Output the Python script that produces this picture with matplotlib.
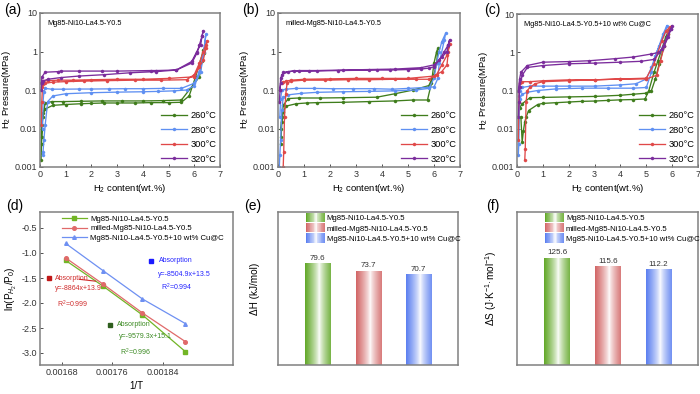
import numpy as np
import matplotlib
matplotlib.use('Agg')
import matplotlib.pyplot as plt
from matplotlib.legend_handler import HandlerBase
from matplotlib.patches import Rectangle
from matplotlib.colors import to_rgb
from matplotlib.ticker import FixedLocator, FixedFormatter, NullLocator

plt.rcParams['font.family'] = ['Liberation Sans', 'DejaVu Sans']
plt.rcParams['mathtext.fontset'] = 'custom'
plt.rcParams['mathtext.rm'] = 'Liberation Sans'
plt.rcParams['mathtext.it'] = 'Liberation Sans:italic'
plt.rcParams['mathtext.bf'] = 'Liberation Sans:bold'

# ---------------- data ----------------
temps = ['260°C', '280°C', '300°C', '320°C']

# panel (a) Mg85-Ni10-La4.5-Y0.5
a260_x = [0.04,0.06,0.08,0.12,0.2,0.5,1.0,1.6,2.0,2.5,3.0,3.7,4.3,5.0,5.5,5.8,6.05,6.25,6.35,6.38,6.3,6.2,5.5,4.8,4.0,3.2,2.4,1.6,0.9,0.45,0.2,0.1,0.06]
a260_p = [0.0015,0.004,0.012,0.025,0.032,0.04,0.042,0.044,0.045,0.046,0.046,0.046,0.047,0.047,0.048,0.07,0.22,0.6,1.1,0.9,0.55,0.22,0.055,0.053,0.052,0.052,0.052,0.051,0.05,0.05,0.045,0.02,0.006]
a280_x = [0.1,0.12,0.15,0.2,0.3,0.5,1.0,2.0,3.0,4.0,4.6,5.2,5.7,6.0,6.25,6.38,6.45,6.4,6.3,6.2,6.0,5.5,4.8,4.0,3.3,2.7,2.0,1.5,0.9,0.45,0.2,0.15,0.12,0.1]
a280_p = [0.002,0.0025,0.005,0.012,0.05,0.07,0.08,0.085,0.088,0.09,0.092,0.095,0.1,0.13,0.3,1.0,2.8,1.5,0.6,0.3,0.15,0.11,0.11,0.108,0.108,0.107,0.106,0.106,0.105,0.105,0.11,0.09,0.05,0.01]
a300_x = [0.05,0.07,0.1,0.2,0.5,1.0,1.7,2.6,3.7,4.7,5.7,6.0,6.2,6.35,6.45,6.5,6.45,6.35,6.2,6.0,5.0,4.0,3.0,2.0,1.3,0.7,0.3,0.1,0.07]
a300_p = [0.012,0.05,0.14,0.15,0.16,0.165,0.17,0.175,0.18,0.18,0.185,0.25,0.5,1.0,1.5,1.9,1.2,0.6,0.4,0.22,0.2,0.19,0.19,0.185,0.18,0.18,0.175,0.17,0.12]
a320_x = [0.05,0.07,0.1,0.3,0.8,1.5,2.5,3.5,4.5,5.3,5.9,6.1,6.2,6.3,6.35,6.3,6.25,6.1,5.9,5.3,4.5,4.3,3.0,2.4,1.5,0.8,0.7,0.2,0.08,0.05]
a320_p = [0.1,0.15,0.17,0.19,0.21,0.23,0.25,0.28,0.3,0.33,0.5,0.9,1.5,2.5,3.5,2.5,1.5,1.0,0.55,0.33,0.32,0.32,0.31,0.31,0.31,0.31,0.3,0.29,0.22,0.15]

# panel (b) milled-Mg85-Ni10-La4.5-Y0.5
b260_x = [0.1,0.12,0.15,0.2,0.3,0.7,1.1,1.5,2.5,3.5,4.5,5.2,5.75,5.9,6.0,6.1,6.15,6.1,6.0,5.8,5.2,4.5,3.8,2.5,1.6,0.8,0.4,0.2,0.15,0.1]
b260_p = [0.004,0.006,0.015,0.027,0.038,0.044,0.046,0.047,0.048,0.05,0.052,0.055,0.055,0.15,0.5,1.0,1.2,0.5,0.25,0.13,0.1,0.08,0.065,0.063,0.062,0.062,0.06,0.04,0.02,0.01]
b280_x = [0.05,0.07,0.1,0.15,0.2,0.4,0.9,1.5,2.5,3.5,4.5,5.3,5.8,6.0,6.1,6.2,6.3,6.45,6.4,6.2,6.15,6.0,5.0,4.4,3.7,2.9,2.1,1.4,0.7,0.3,0.15,0.1,0.07]
b280_p = [0.001,0.002,0.005,0.03,0.065,0.075,0.082,0.087,0.09,0.092,0.095,0.1,0.11,0.2,0.5,1.0,1.8,3.0,2.0,0.5,0.2,0.12,0.11,0.105,0.108,0.108,0.108,0.11,0.11,0.105,0.1,0.06,0.02]
b300_x = [0.2,0.22,0.25,0.3,0.35,0.5,1.0,1.8,2.7,3.5,4.5,5.3,5.8,6.1,6.3,6.5,6.6,6.55,6.5,6.3,6.0,5.0,4.0,3.0,2.0,1.0,0.5,0.3,0.2,0.15]
b300_p = [0.001,0.0025,0.02,0.08,0.15,0.17,0.18,0.18,0.185,0.185,0.19,0.19,0.19,0.25,0.45,0.8,1.6,1.0,0.45,0.3,0.23,0.2,0.2,0.2,0.195,0.19,0.18,0.17,0.16,0.15]
b320_x = [0.05,0.08,0.1,0.2,0.6,1.2,2.3,3.8,4.3,5.0,5.5,5.8,6.0,6.2,6.4,6.55,6.6,6.55,6.5,6.3,6.0,5.5,4.5,3.5,2.5,1.5,0.8,0.4,0.15,0.1,0.07]
b320_p = [0.05,0.1,0.2,0.29,0.31,0.31,0.32,0.33,0.33,0.34,0.35,0.37,0.4,0.6,1.0,1.5,2.0,1.5,1.0,0.7,0.45,0.38,0.35,0.34,0.33,0.32,0.32,0.3,0.25,0.15,0.1]

# panel (c) Mg85-Ni10-La4.5-Y0.5+10 wt% Cu@C
c260_x = [0.15,0.2,0.25,0.3,0.35,0.45,0.8,1.0,1.5,2.0,2.5,3.0,3.5,4.0,4.5,4.95,5.1,5.3,5.45,5.6,5.75,5.9,5.85,5.7,5.5,5.35,5.2,5.0,4.5,4.0,3.0,2.0,1.0,0.5,0.2,0.1,0.05]
c260_p = [0.02,0.0045,0.009,0.015,0.02,0.03,0.043,0.046,0.048,0.05,0.052,0.053,0.055,0.057,0.058,0.06,0.1,0.3,0.6,1.2,2.5,4.0,3.0,1.5,0.5,0.2,0.1,0.085,0.08,0.075,0.07,0.068,0.066,0.065,0.045,0.035,0.02]
c280_x = [0.05,0.07,0.1,0.2,0.4,0.8,1.5,2.5,3.5,4.5,5.0,5.2,5.35,5.5,5.65,5.8,5.75,5.6,5.4,5.2,5.0,4.6,4.0,3.0,2.0,1.5,1.0,0.5,0.2,0.1,0.07]
c280_p = [0.002,0.004,0.06,0.08,0.09,0.1,0.11,0.115,0.115,0.115,0.12,0.3,0.8,1.5,3.0,5.0,3.5,2.0,1.0,0.4,0.2,0.15,0.14,0.13,0.13,0.13,0.13,0.13,0.12,0.1,0.07]
c300_x = [0.3,0.32,0.35,0.4,0.5,0.7,1.0,2.0,3.0,4.0,5.0,5.3,5.45,5.6,5.75,5.9,5.85,5.7,5.55,5.4,5.0,4.0,3.0,2.0,1.0,0.5,0.2,0.1,0.07,0.05]
c300_p = [0.0015,0.003,0.05,0.1,0.12,0.15,0.17,0.18,0.19,0.2,0.21,0.5,1.0,2.0,3.5,4.5,3.0,1.5,0.6,0.25,0.2,0.2,0.19,0.19,0.18,0.17,0.17,0.16,0.05,0.005]
c320_x = [0.05,0.08,0.1,0.2,0.4,1.0,2.0,3.0,4.0,4.8,5.3,5.6,5.8,5.95,6.0,5.95,5.85,5.7,5.5,5.2,4.5,3.8,2.8,2.0,1.0,0.4,0.15,0.1,0.05]
c320_p = [0.02,0.05,0.12,0.25,0.4,0.45,0.5,0.52,0.55,0.58,0.65,1.2,2.5,4.0,5.0,4.0,2.5,1.5,1.0,0.9,0.75,0.68,0.6,0.57,0.55,0.45,0.3,0.2,0.1]

# panel (d) van't Hoff
samples = ['Mg85-Ni10-La4.5-Y0.5', 'milled-Mg85-Ni10-La4.5-Y0.5', 'Mg85-Ni10-La4.5-Y0.5+10 wt% Cu@C']
inv_T = [0.001686, 0.001745, 0.001808, 0.001876]
lnP_base = [-1.15, -1.66, -2.24, -2.97]
lnP_milled = [-1.10, -1.62, -2.20, -2.77]
lnP_cu = [-0.81, -1.35, -1.92, -2.41]
fit_base = 'y=-9579.3x+15.1'
fit_milled = 'y=-8864x+13.9'
fit_cu = 'y=-8504.9x+13.5'
r2_base = '0.996'
r2_milled = '0.999'
r2_cu = '0.994'

# panels (e), (f)
dH = [79.6, 73.7, 70.7]
dS = [125.6, 115.6, 112.2]

# ---------------- styles ----------------
pct_colors = ['#3f7d1c', '#5f90f2', '#e04848', '#7b2c9c']
d_colors = ['#72b526', '#e06a6a', '#6e90f2']
d_markers = ['s', 'o', '^']
bar_colors = ['#62a828', '#d26666', '#5b7ff0']
spine_col = '#808080'

fig = plt.figure(figsize=(7.0, 3.94), dpi=100)
W, H = 700.0, 394.0

def px_axes(l, t, r, b):
    return fig.add_axes([l / W, 1 - b / H, (r - l) / W, (b - t) / H])

def style_spines(ax):
    for s in ax.spines.values():
        s.set_color(spine_col)
        s.set_linewidth(1.1)
    ax.tick_params(direction='in', length=2.5, width=0.6, colors='#333333', labelsize=6.5, pad=2)

def pct_panel(ax, series, title):
    for (x, p), c, lab in zip(series, pct_colors, temps):
        ax.plot(x, p, '-', marker='o', color=c, ms=2.2, lw=0.95, mew=0.3, label=lab)
    ax.set_yscale('log')
    ax.set_xlim(0, 7)
    ax.set_ylim(0.001, 10)
    ax.yaxis.set_major_locator(FixedLocator([0.001, 0.01, 0.1, 1, 10]))
    ax.yaxis.set_major_formatter(FixedFormatter(['0.001', '0.01', '0.1', '1', '10']))
    ax.yaxis.set_minor_locator(NullLocator())
    ax.set_xticks(range(0, 8))
    style_spines(ax)
    ax.set_xlabel('H$_2$ content(wt.%)', fontsize=6.8, labelpad=2)
    ax.set_ylabel('H$_2$ Pressure(MPa)', fontsize=6.8, labelpad=1)
    ax.text(0.04, 0.93, title, transform=ax.transAxes, fontsize=5.3, va='center', ha='left')
    ax.legend(loc='lower right', fontsize=6.7, frameon=False, handlelength=2.8,
              labelspacing=0.6, handletextpad=0.4, borderpad=0.15, borderaxespad=0.2)

axA = px_axes(40, 13, 220, 167)
pct_panel(axA, [(a260_x, a260_p), (a280_x, a280_p), (a300_x, a300_p), (a320_x, a320_p)], 'Mg85-Ni10-La4.5-Y0.5')
axB = px_axes(278, 13, 460, 167)
pct_panel(axB, [(b260_x, b260_p), (b280_x, b280_p), (b300_x, b300_p), (b320_x, b320_p)], 'milled-Mg85-Ni10-La4.5-Y0.5')
axC = px_axes(517, 14, 698, 167)
pct_panel(axC, [(c260_x, c260_p), (c280_x, c280_p), (c300_x, c300_p), (c320_x, c320_p)], 'Mg85-Ni10-La4.5-Y0.5+10 wt% Cu@C')

# ---------------- panel (d) ----------------
axD = px_axes(40, 212, 233, 365)
for y, c, m, lab in zip([lnP_base, lnP_milled, lnP_cu], d_colors, d_markers, samples):
    axD.plot(inv_T, y, '-', marker=m, color=c, ms=2.6, lw=0.9, label=lab)
axD.set_xlim(0.001645, 0.001952)
axD.set_ylim(-3.24, -0.18)
axD.set_xticks([0.00168, 0.00176, 0.00184])
axD.set_xticklabels(['0.00168', '0.00176', '0.00184'])
axD.set_yticks([-0.5, -1.0, -1.5, -2.0, -2.5, -3.0])
axD.set_yticklabels(['-0.5', '-1.0', '-1.5', '-2.0', '-2.5', '-3.0'])
style_spines(axD)
axD.set_xlabel('1/T', fontsize=7, labelpad=3)
axD.set_ylabel('ln(P$_{H_2}$/P$_0$)', fontsize=7.2, labelpad=2)
axD.legend(loc='upper left', bbox_to_anchor=(0.08, 1.02), fontsize=5.6, frameon=False,
           handlelength=3.2, labelspacing=0.3, handletextpad=0.5, borderpad=0.3)

red_t, blue_t, green_t = '#d02c2c', '#2424ff', '#3b8a22'
fs_ann = 5.0
axD.plot([0.00166], [-1.5], 's', color='#c01818', ms=3.2)
axD.text(0.001669, -1.5, 'Absorption', color=red_t, fontsize=fs_ann, va='center')
axD.annotate('', xy=(0.001738, -1.57), xytext=(0.001703, -1.52),
             arrowprops=dict(arrowstyle='-', color=red_t, lw=0.8))
axD.text(0.001669, -1.72, fit_milled, color=red_t, fontsize=fs_ann, va='center')
axD.text(0.001672, -2.02, 'R$^2$=' + r2_milled, color=red_t, fontsize=fs_ann, va='center')

axD.plot([0.001822], [-1.16], 's', color='#1a1aff', ms=3.2)
axD.text(0.001834, -1.16, 'Absorption', color=blue_t, fontsize=fs_ann, va='center')
axD.text(0.001832, -1.44, fit_cu, color=blue_t, fontsize=fs_ann, va='center')
axD.text(0.001837, -1.68, 'R$^2$=' + r2_cu, color=blue_t, fontsize=fs_ann, va='center')

axD.plot([0.001757], [-2.44], 's', color='#2e5e1e', ms=3.2)
axD.text(0.001768, -2.44, 'Absorption', color=green_t, fontsize=fs_ann, va='center')
axD.text(0.00177, -2.68, fit_base, color=green_t, fontsize=fs_ann, va='center')
axD.text(0.001773, -2.98, 'R$^2$=' + r2_base, color=green_t, fontsize=fs_ann, va='center')

# ---------------- gradient bars (e), (f) ----------------
def grad_rgb(color, n=64):
    c = np.array(to_rgb(color))
    u = np.linspace(0, 1, n)
    t = np.abs(u - 0.55) / 0.55
    t = np.clip(t, 0, 1) ** 0.75
    return (1 - t)[:, None] * np.ones(3)[None, :] + t[:, None] * c[None, :]

class GradHandler(HandlerBase):
    def __init__(self, color):
        super().__init__()
        self.color = color
    def create_artists(self, legend, orig_handle, xdescent, ydescent, width, height, fontsize, trans):
        cols = grad_rgb(self.color, 24)
        n = len(cols)
        arts = []
        for i, col in enumerate(cols):
            r = Rectangle((-xdescent + i * width / n, -ydescent - 1), width / n + 0.3, height + 2,
                          facecolor=col, edgecolor='none', transform=trans)
            arts.append(r)
        return arts

def bar_panel(ax, vals, ylim, ylabel):
    xs = np.arange(len(vals))
    bars = ax.bar(xs, vals, width=0.5, color='none', edgecolor='none')
    for b, c, v in zip(bars, bar_colors, vals):
        x0, w, h = b.get_x(), b.get_width(), b.get_height()
        img = grad_rgb(c)[None, :, :]
        ax.imshow(img, extent=(x0, x0 + w, 0, h), aspect='auto', interpolation='bilinear', zorder=2)
        ax.text(x0 + w / 2, h + ylim * 0.012, f'{v:.1f}', ha='center', va='bottom', fontsize=5.8, color='#333333')
    ax.set_xlim(-0.79, 2.78)
    ax.set_ylim(0, ylim)
    ax.set_xticks([])
    ax.set_yticks([])
    style_spines(ax)
    ax.set_ylabel(ylabel, fontsize=7.2, labelpad=13)
    handles = [Rectangle((0, 0), 1, 1) for _ in bar_colors]
    ax.legend(handles, samples, handler_map={h: GradHandler(c) for h, c in zip(handles, bar_colors)},
              loc='upper left', bbox_to_anchor=(0.12, 1.025), fontsize=5.6, frameon=False,
              handlelength=2.4, handleheight=0.9, labelspacing=0.3, handletextpad=0.3, borderpad=0.3)

axE = px_axes(278, 212, 458, 365)
bar_panel(axE, dH, 120, 'ΔH (kJ/mol)')
axF = px_axes(517, 212, 698, 365)
bar_panel(axF, dS, 180, 'ΔS (J·K$^{-1}$·mol$^{-1}$)')

# panel labels
for lab, x, y in [('(a)', 4, 10), ('(b)', 242, 10), ('(c)', 484, 10),
                  ('(d)', 6, 206), ('(e)', 244, 206), ('(f)', 486, 206)]:
    fig.text(x / W, 1 - y / H, lab, fontsize=10, va='center', ha='left')

fig.savefig('out.png', dpi=100)
